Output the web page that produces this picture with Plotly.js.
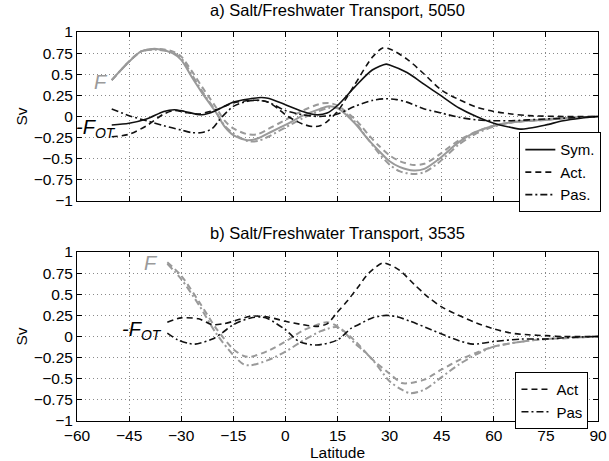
<!DOCTYPE html>
<html>
<head>
<meta charset="utf-8">
<script src="https://cdn.plot.ly/plotly-3.0.1.min.js"></script>
<style>html,body{margin:0;padding:0;background:#fff;}#chart{width:609px;height:461px;}</style>
</head>
<body>
<div id="chart"></div>
<script>
// ---------- Panel a) 5050 ----------
const latSymA = [-50,-45,-40,-35,-32,-29,-24,-20,-15,-10,-7,-5,0,5,9,12,15,20,25,29,30,35,40,45,50,55,60,65,68,70,75,80,85,90];
const symA    = [-0.10,-0.08,-0.03,0.06,0.08,0.06,0.02,0.07,0.17,0.21,0.225,0.215,0.14,0.06,0.02,0.04,0.13,0.35,0.55,0.62,0.61,0.52,0.38,0.24,0.10,0.00,-0.08,-0.13,-0.15,-0.14,-0.10,-0.05,-0.02,0.00];

const latActA = [-50,-45,-40,-35,-32,-29,-25,-20,-15,-10,-7,-5,-2,0,2,5,8,10,12,15,20,25,28,30,35,40,45,50,55,60,65,70,80,90];
const actA    = [-0.24,-0.21,-0.11,0.03,0.07,0.05,0.03,0.08,0.16,0.19,0.19,0.17,0.09,0.02,-0.03,-0.09,-0.12,-0.11,-0.06,0.06,0.38,0.70,0.81,0.80,0.68,0.50,0.31,0.20,0.11,0.06,0.03,0.01,0.00,0.00];

const latPasA = [-50,-45,-40,-35,-30,-27,-24,-21,-19,-15,-11,-8,-5,0,5,10,15,20,25,29,32,35,40,45,50,55,60,65,70,75,80,85,90];
const pasA    = [0.09,0.01,-0.05,-0.11,-0.16,-0.19,-0.19,-0.14,-0.04,0.12,0.18,0.19,0.17,0.07,0.02,0.00,0.03,0.12,0.19,0.21,0.20,0.17,0.09,0.04,-0.01,-0.04,-0.05,-0.05,-0.04,-0.03,-0.02,-0.01,0.00];

const latFA  = [-50,-45,-41.5,-37,-32.5,-30,-27,-24,-20,-17.5,-15,-11,-8,-5,0,5,10,12.5,15,20,22,24,27,30,33,37,40,44,50,55,60,65,70,75,80,85,90];
const symFA  = [0.43,0.65,0.77,0.80,0.75,0.67,0.47,0.28,0.05,-0.12,-0.22,-0.28,-0.26,-0.20,-0.10,0.01,0.09,0.12,0.10,-0.08,-0.18,-0.28,-0.41,-0.53,-0.60,-0.64,-0.62,-0.51,-0.30,-0.18,-0.11,-0.07,-0.05,-0.04,-0.02,-0.01,0.00];
const actFA  = [0.43,0.65,0.77,0.80,0.77,0.71,0.54,0.35,0.11,-0.05,-0.14,-0.21,-0.21,-0.15,-0.04,0.07,0.15,0.16,0.13,-0.03,-0.12,-0.22,-0.35,-0.46,-0.53,-0.575,-0.56,-0.46,-0.28,-0.18,-0.11,-0.07,-0.05,-0.04,-0.02,-0.01,0.00];
const pasFA  = [0.43,0.65,0.77,0.79,0.76,0.69,0.50,0.30,0.06,-0.11,-0.20,-0.29,-0.29,-0.24,-0.13,-0.02,0.07,0.10,0.10,-0.06,-0.17,-0.28,-0.44,-0.57,-0.65,-0.68,-0.66,-0.55,-0.33,-0.20,-0.12,-0.07,-0.05,-0.04,-0.02,-0.01,0.00];

// ---------- Panel b) 3535 ----------
const latActB = [-34,-30,-25,-21,-18,-15,-10,-5,0,5,9,12,15,18,21,24,28,30,33,37,41,45,51,55,60,65,70,75,80,90];
const actB    = [0.17,0.22,0.21,0.14,0.15,0.18,0.24,0.23,0.18,0.14,0.12,0.15,0.29,0.43,0.59,0.75,0.87,0.85,0.78,0.62,0.47,0.35,0.23,0.16,0.09,0.04,0.02,0.01,0.00,0.00];

const latPasB = [-34,-31,-28,-26,-21,-18,-15,-10,-7,-5,0,4,9,15,19,21,25,29,32,36,42,45,50,54,60,68,75,82,90];
const pasB    = [0.04,-0.04,-0.08,-0.09,-0.03,0.05,0.14,0.22,0.23,0.21,0.08,-0.06,-0.10,-0.04,0.10,0.14,0.22,0.25,0.235,0.18,0.08,0.03,-0.05,-0.09,-0.06,-0.03,-0.03,-0.01,0.00];

const latFB  = [-34,-30,-25,-20,-15,-12,-10,-5,0,5,10,12,15,20,25,30,33.5,36,40,45,50,55,60,65,70,75,80,85,90];
const actFB  = [0.88,0.72,0.42,0.10,-0.15,-0.23,-0.24,-0.17,-0.06,0.07,0.15,0.17,0.12,-0.05,-0.27,-0.44,-0.55,-0.55,-0.51,-0.39,-0.28,-0.19,-0.12,-0.08,-0.05,-0.03,-0.02,-0.01,0.00];
const pasFB  = [0.86,0.68,0.38,0.04,-0.22,-0.33,-0.34,-0.28,-0.18,-0.05,0.06,0.09,0.11,-0.08,-0.27,-0.53,-0.63,-0.67,-0.63,-0.48,-0.33,-0.21,-0.12,-0.08,-0.05,-0.03,-0.02,-0.01,0.00];

const xTicks = [-60,-45,-30,-15,0,15,30,45,60,75,90];
const xTickText = ['−60','−45','−30','−15','0','15','30','45','60','75','90'];
const yTicks = [-1,-0.75,-0.5,-0.25,0,0.25,0.5,0.75,1];
const yTickText = ['−1','−0.75','−0.5','−0.25','0','0.25','0.5','0.75','1'];

const BLACK = '#111111', GREY = '#9a9a9a';
const DASH = '6px,4px', DASHDOT = '7px,3px,2px,3px';

function tr(x, y, xa, ya, color, dash, width, name, legend, show) {
  return {x: x, y: y, xaxis: xa, yaxis: ya, type: 'scatter', mode: 'lines', name: name,
    line: {color: color, dash: dash, width: width, shape: 'spline', smoothing: 0.8},
    showlegend: show, legend: legend, hoverinfo: 'skip'};
}

const data = [
  tr(latFA, symFA, 'x', 'y', GREY, 'solid', 2, 'F Sym.', 'legend', false),
  tr(latFA, actFA, 'x', 'y', GREY, DASH, 2, 'F Act.', 'legend', false),
  tr(latFA, pasFA, 'x', 'y', GREY, DASHDOT, 2, 'F Pas.', 'legend', false),
  tr(latSymA, symA, 'x', 'y', BLACK, 'solid', 1.6, 'Sym.', 'legend', true),
  tr(latActA, actA, 'x', 'y', BLACK, DASH, 1.6, 'Act.', 'legend', true),
  tr(latPasA, pasA, 'x', 'y', BLACK, DASHDOT, 1.6, 'Pas.', 'legend', true),
  tr(latFB, actFB, 'x2', 'y2', GREY, DASH, 2, 'F Act', 'legend2', false),
  tr(latFB, pasFB, 'x2', 'y2', GREY, DASHDOT, 2, 'F Pas', 'legend2', false),
  tr(latActB, actB, 'x2', 'y2', BLACK, DASH, 1.6, 'Act', 'legend2', true),
  tr(latPasB, pasB, 'x2', 'y2', BLACK, DASHDOT, 1.6, 'Pas', 'legend2', true)
];

const FAM = 'Liberation Sans, Arial, Helvetica, sans-serif';
const FONT = {family: FAM, size: 15.5, color: '#000'};
const TFONT = {family: FAM, size: 16.5, color: '#000'};
const LFONT = {family: FAM, size: 15, color: '#000'};

function xaxis(showLabels, anchor) {
  return {range: [-60, 90], tickvals: xTicks, ticktext: xTickText, showticklabels: showLabels,
    ticks: 'inside', ticklen: 5, tickcolor: '#000', mirror: 'allticks', showline: true, linecolor: '#000', linewidth: 1,
    showgrid: true, gridcolor: '#8a8a8a', griddash: '1px,3px', gridwidth: 1, zeroline: false, anchor: anchor,
    tickfont: FONT};
}
function yaxis(domain, anchor) {
  return {range: [-1, 1], domain: domain, tickvals: yTicks, ticktext: yTickText,
    ticks: 'inside', ticklen: 5, tickcolor: '#000', mirror: 'allticks', showline: true, linecolor: '#000', linewidth: 1,
    showgrid: true, gridcolor: '#8a8a8a', griddash: '1px,3px', gridwidth: 1, zeroline: false, anchor: anchor,
    tickfont: FONT, title: {text: 'Sv', font: FONT, standoff: 2}};
}

const xa = xaxis(false, 'y');
const xb = xaxis(true, 'y2');
xb.title = {text: 'Latitude', font: FONT, standoff: 1};

const layout = {
  width: 609, height: 461,
  margin: {l: 77, r: 8, t: 32, b: 40},
  paper_bgcolor: '#fff', plot_bgcolor: '#fff',
  font: FONT,
  xaxis: xa,
  yaxis: yaxis([0.5656, 1], 'x'),
  xaxis2: xb,
  yaxis2: yaxis([0, 0.4344], 'x2'),
  legend: {x: 0.849, y: 0.742, xanchor: 'left', yanchor: 'top', bgcolor: '#fff', bordercolor: '#000', borderwidth: 1,
    font: LFONT, tracegroupgap: 0},
  legend2: {x: 0.8416, y: 0.126, xanchor: 'left', yanchor: 'top', bgcolor: '#fff', bordercolor: '#000', borderwidth: 1,
    font: LFONT, tracegroupgap: 0},
  annotations: [
    {text: 'a) Salt/Freshwater Transport, 5050', xref: 'paper', yref: 'paper', x: 0.5, y: 1.0566, xanchor: 'center', yanchor: 'middle', showarrow: false, font: TFONT},
    {text: 'b) Salt/Freshwater Transport, 3535', xref: 'paper', yref: 'paper', x: 0.5, y: 0.4833, xanchor: 'center', yanchor: 'middle', showarrow: false, font: TFONT},
    {text: '<i>F</i>', xref: 'x', yref: 'y', x: -53, y: 0.41, xanchor: 'center', yanchor: 'middle', showarrow: false, font: {family: FAM, size: 20, color: GREY}},
    {text: '<i>-F<sub>OT</sub></i>', xref: 'paper', yref: 'y', x: -0.005, y: -0.14, xanchor: 'left', yanchor: 'middle', showarrow: false, font: {family: FAM, size: 20, color: '#000'}},
    {text: '<i>F</i>', xref: 'x2', yref: 'y2', x: -38.8, y: 0.87, xanchor: 'center', yanchor: 'middle', showarrow: false, font: {family: FAM, size: 20, color: GREY}},
    {text: '<i>-F<sub>OT</sub></i>', xref: 'x2', yref: 'y2', x: -47.5, y: 0.07, xanchor: 'left', yanchor: 'middle', showarrow: false, font: {family: FAM, size: 20, color: '#000'}}
  ]
};

Plotly.newPlot('chart', data, layout, {staticPlot: true, displayModeBar: false});
</script>
</body>
</html>
